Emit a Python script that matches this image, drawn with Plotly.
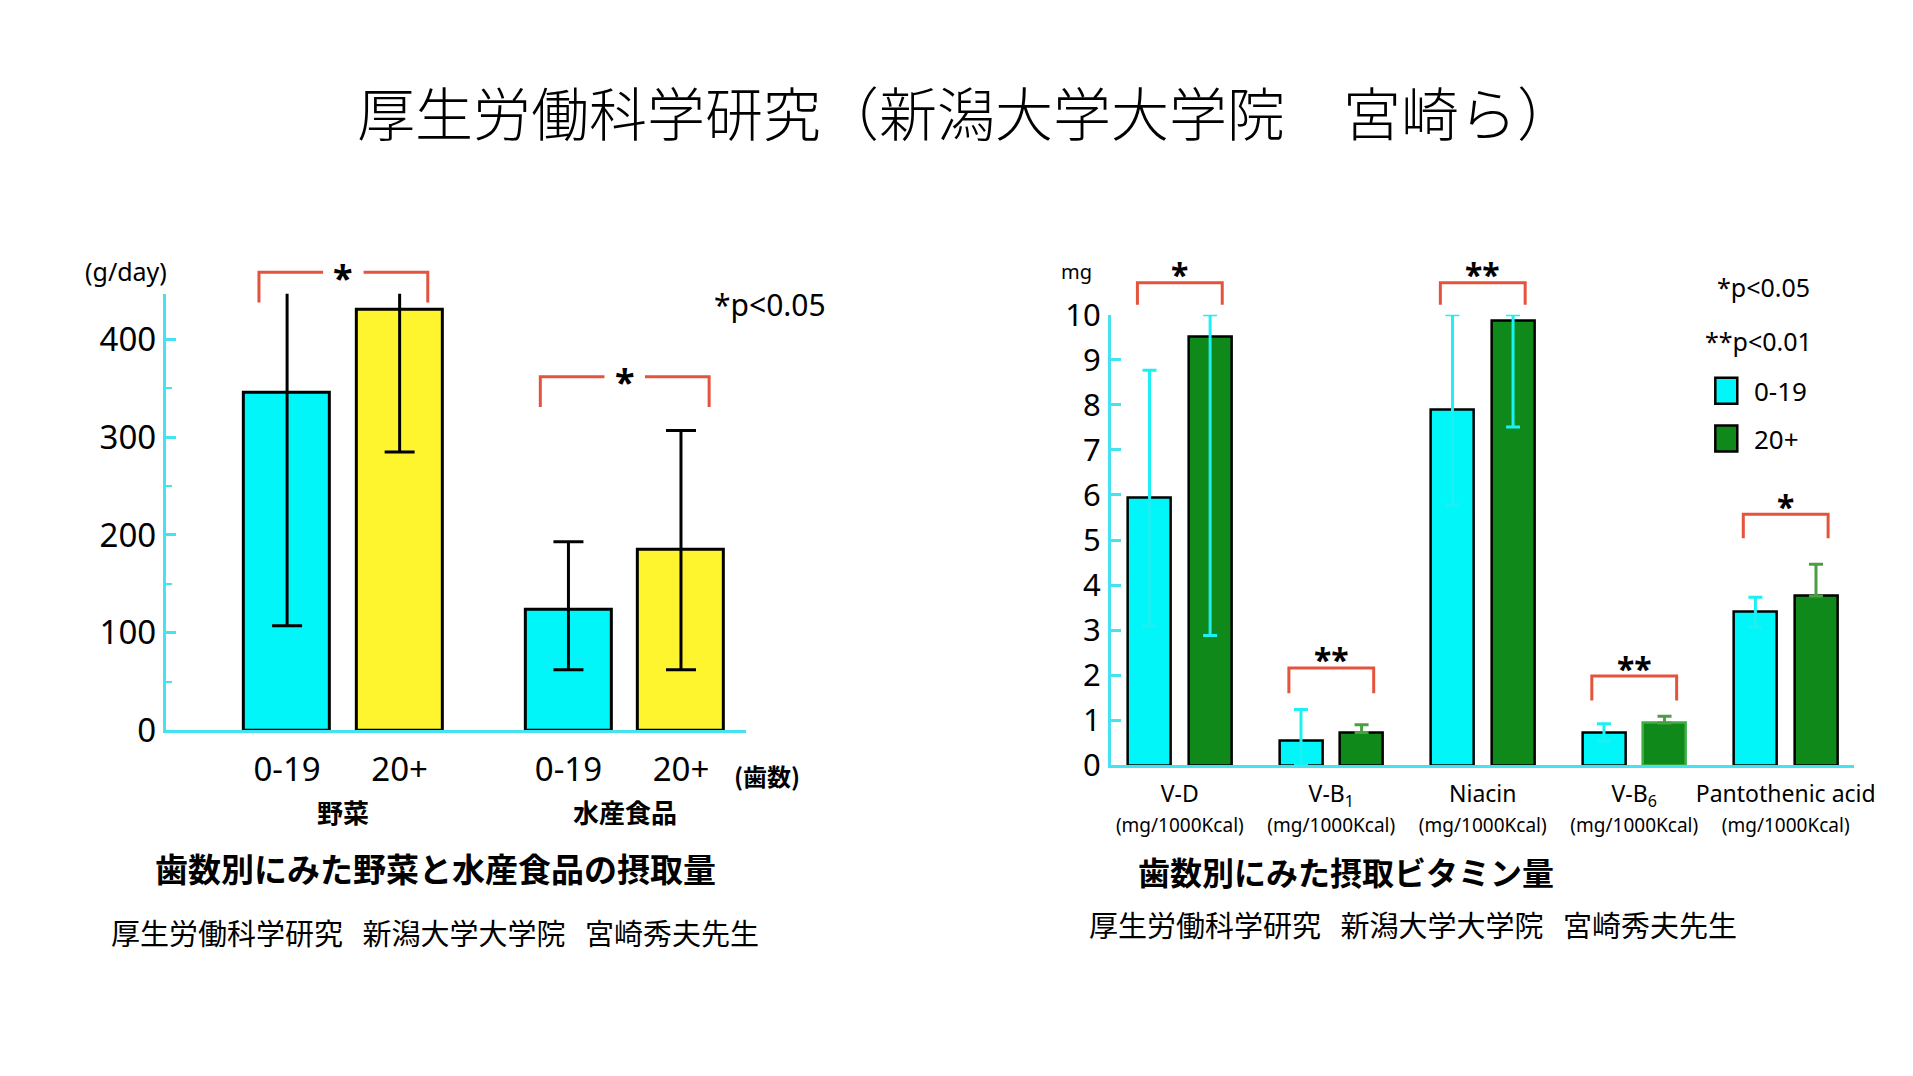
import plotly.graph_objects as go

W, H = 1913, 1076

# ---------------- data : left chart (g/day) ----------------
food_groups = ["野菜", "水産食品"]
age_groups = ["0-19", "20+"]
young_intake = [346, 123]
young_upper = [452, 193]
young_lower = [107, 62]
adult_intake = [431, 185]
adult_upper = [452, 307]
adult_lower = [285, 62]
left_sig_labels = ["*", "*"]
left_sig_top = [469, 362]
left_sig_bottom = [438, 331]
left_ticks = [0, 100, 200, 300, 400]

# ---------------- data : right chart (mg) ----------------
vitamins = ["V-D", "V-B<sub>1</sub>", "Niacin", "V-B<sub>6</sub>", "Pantothenic acid"]
vitamin_unit = "(mg/1000Kcal)"
young_vit = [5.93, 0.55, 7.89, 0.73, 3.40]
young_vit_upper = [8.77, 1.24, 10.0, 0.92, 3.73]
adult_vit = [9.51, 0.73, 9.87, 0.94, 3.76]
adult_vit_upper = [10.0, 0.90, 10.0, 1.09, 4.46]
adult_vit_lower = [2.88, 0.73, 7.51, 0.94, 3.76]
adult_err_tone = ["cyan", "green", "cyan", "green", "green"]
right_sig_labels = ["*", "**", "**", "**", "*"]
right_sig_top = [10.71, 2.16, 10.71, 1.98, 5.57]
right_sig_bottom = [10.22, 1.60, 10.22, 1.44, 5.04]
right_ticks = [0, 1, 2, 3, 4, 5, 6, 7, 8, 9, 10]

# ---------------- styles ----------------
CYAN = "#00F6F8"
YELLOW = "#FFF52E"
GREEN = "#0F8A1A"
AXIS = "#45E2F0"
ERR_CYAN = "#1DF0F4"
ERR_GREEN = "#4C9E45"
RED = "#E4533C"
JP = "Noto Sans CJK JP"
LAT = "Noto Sans"

L_RANGE = [0, 447]
R_RANGE = [0, 10]
L_OFF, L_W = 0.2, 0.305
R_OFF, R_W = 0.2, 0.284

# calibration of the photographed page (measured from test renders)
SY, OY = 0.96, 21.0
SX, OX = 0.99, -1.0


def px(x):
    return ((x - OX) / SX) / W


def py(y):
    return 1 - ((y - OY) / SY) / H


fig = go.Figure()

# ---------- left chart ----------
lx = list(range(len(food_groups)))
fig.add_trace(go.Bar(
    x=[g - L_OFF for g in lx], y=young_intake, width=L_W, name=age_groups[0],
    marker=dict(color=CYAN, line=dict(color="black", width=3)),
    error_y=dict(type="data", symmetric=False,
                 array=[u - m for u, m in zip(young_upper, young_intake)],
                 arrayminus=[m - l for m, l in zip(young_intake, young_lower)],
                 color="black", thickness=3, width=15),
    xaxis="x", yaxis="y", cliponaxis=False, showlegend=False, hoverinfo="skip"))
fig.add_trace(go.Bar(
    x=[g + L_OFF for g in lx], y=adult_intake, width=L_W, name=age_groups[1],
    marker=dict(color=YELLOW, line=dict(color="black", width=3)),
    error_y=dict(type="data", symmetric=False,
                 array=[u - m for u, m in zip(adult_upper, adult_intake)],
                 arrayminus=[m - l for m, l in zip(adult_intake, adult_lower)],
                 color="black", thickness=3, width=15),
    xaxis="x", yaxis="y", cliponaxis=False, showlegend=False, hoverinfo="skip"))

# ---------- right chart ----------
rx = list(range(len(vitamins)))
adult_outline = ["black", "black", "black", "#3FAE45", "black"]
fig.add_trace(go.Bar(
    x=[i - R_OFF for i in rx], y=young_vit, width=R_W, name=age_groups[0],
    marker=dict(color=CYAN, line=dict(color="black", width=2.5)),
    xaxis="x2", yaxis="y2", cliponaxis=False, showlegend=False, hoverinfo="skip"))
fig.add_trace(go.Bar(
    x=[i + R_OFF for i in rx], y=adult_vit, width=R_W, name=age_groups[1],
    marker=dict(color=GREEN, line=dict(color=adult_outline, width=2.5)),
    xaxis="x2", yaxis="y2", cliponaxis=False, showlegend=False, hoverinfo="skip"))

# error bars (0-19: the lower half hides inside the cyan bar)
fig.add_trace(go.Scatter(
    x=[i - R_OFF for i in rx], y=young_vit, mode="markers",
    marker=dict(color="rgba(0,0,0,0)", size=1),
    error_y=dict(type="data", symmetric=False,
                 array=[u - m for u, m in zip(young_vit_upper, young_vit)],
                 arrayminus=[min(u - m, m) for u, m in zip(young_vit_upper, young_vit)],
                 color=ERR_CYAN, thickness=3, width=7),
    xaxis="x2", yaxis="y2", cliponaxis=False, showlegend=False, hoverinfo="skip"))

for tone, col in (("cyan", ERR_CYAN), ("green", ERR_GREEN)):
    idx = [i for i in rx if adult_err_tone[i] == tone]
    fig.add_trace(go.Scatter(
        x=[i + R_OFF for i in idx], y=[adult_vit[i] for i in idx], mode="markers",
        marker=dict(color="rgba(0,0,0,0)", size=1),
        error_y=dict(type="data", symmetric=False,
                     array=[adult_vit_upper[i] - adult_vit[i] for i in idx],
                     arrayminus=[adult_vit[i] - adult_vit_lower[i] for i in idx],
                     color=col, thickness=3, width=7),
        xaxis="x2", yaxis="y2", cliponaxis=False, showlegend=False, hoverinfo="skip"))

shapes = []
annotations = []

# significance brackets, left (gap for the asterisk)
for g, lab, top, bot in zip(lx, left_sig_labels, left_sig_top, left_sig_bottom):
    yt, yb = top / L_RANGE[1], bot / L_RANGE[1]
    xl, xr, gap = g - 0.3, g + 0.3, 0.072
    shapes.append(dict(type="path", xref="x", yref="y domain",
                       path=f"M{xl},{yb} L{xl},{yt} L{g - gap},{yt} M{g + gap},{yt} L{xr},{yt} L{xr},{yb}",
                       line=dict(color=RED, width=3)))
    annotations.append(dict(xref="x", yref="y domain", x=g, y=yt, text=f"<b>{lab}</b>",
                            showarrow=False, xanchor="center", yanchor="middle", yshift=-5,
                            font=dict(family=LAT, size=36, color="black")))

# significance brackets, right
for i, lab, top, bot in zip(rx, right_sig_labels, right_sig_top, right_sig_bottom):
    yt, yb = top / R_RANGE[1], bot / R_RANGE[1]
    xl, xr = i - 0.28, i + 0.28
    shapes.append(dict(type="path", xref="x2", yref="y2 domain",
                       path=f"M{xl},{yb} L{xl},{yt} L{xr},{yt} L{xr},{yb}",
                       line=dict(color=RED, width=3)))
    annotations.append(dict(xref="x2", yref="y2 domain", x=i, y=yt, text=f"<b>{lab}</b>",
                            showarrow=False, xanchor="center", yanchor="middle", yshift=8,
                            font=dict(family=LAT, size=32, color="black")))

# group labels under the left x axis
for g, name in zip(lx, food_groups):
    annotations.append(dict(xref="x", yref="paper", x=g, y=py(811), text=f"<b>{name}</b>",
                            showarrow=False, xanchor="center", yanchor="middle",
                            font=dict(family=JP, size=26, color="black")))


def text(x, y, s, size, family=JP, xanchor="center", bold=False, weight=None):
    f = dict(family=family, size=size, color="black")
    if weight:
        f["weight"] = weight
    annotations.append(dict(xref="paper", yref="paper", x=px(x), y=py(y),
                            text=f"<b>{s}</b>" if bold else s, showarrow=False,
                            xanchor=xanchor, yanchor="middle", font=f))


text(966, 110, "厚生労働科学研究（新潟大学大学院　宮崎ら）", 58, weight=300)
text(125, 270, "(g/day)", 25, LAT)
text(770, 304, "*p&lt;0.05", 30, LAT)
text(767, 775, "(歯数)", 24, JP, bold=True)
text(435, 868, "歯数別にみた野菜と水産食品の摂取量", 33, bold=True)
text(434, 932, "厚生労働科学研究\u00a0\u00a0\u00a0新潟大学大学院\u00a0\u00a0\u00a0宮崎秀夫先生", 29)
text(1346, 871, "歯数別にみた摂取ビタミン量", 32, bold=True)
text(1413, 924, "厚生労働科学研究\u00a0\u00a0\u00a0新潟大学大学院\u00a0\u00a0\u00a0宮崎秀夫先生", 29)
text(1077, 271, "mg", 20, LAT)
text(1764, 286, "*p&lt;0.05", 25, LAT)
text(1759, 340, "**p&lt;0.01", 25, LAT)

# legend for right chart
for (y0, y1, col, lab) in ((377, 403, CYAN, age_groups[0]), (425, 451, GREEN, age_groups[1])):
    shapes.append(dict(type="rect", xref="paper", yref="paper",
                       x0=px(1716), x1=px(1738), y0=py(y1), y1=py(y0),
                       fillcolor=col, line=dict(color="black", width=2.5)))
    text(1753, (y0 + y1) / 2, lab, 26, LAT, xanchor="left")

axis_common = dict(showgrid=False, zeroline=False, showline=True, linecolor=AXIS,
                   linewidth=3, color="black")

fig.update_layout(
    width=W, height=H, margin=dict(l=0, r=0, t=0, b=0),
    paper_bgcolor="white", plot_bgcolor="white", bargap=0, showlegend=False,
    hovermode=False,
    xaxis=dict(domain=[px(165), px(746)], range=[-0.631, 1.432], anchor="y",
               tickmode="array",
               tickvals=[g - L_OFF for g in lx] + [g + L_OFF for g in lx],
               ticktext=[age_groups[0]] * len(lx) + [age_groups[1]] * len(lx),
               ticks="", ticklabelstandoff=8, tickangle=0,
               tickfont=dict(family=LAT, size=33, color="black"), **axis_common),
    yaxis=dict(domain=[py(730), py(293)], range=L_RANGE, anchor="x",
               tickmode="array", tickvals=left_ticks,
               ticks="inside", ticklen=10, tickwidth=3, tickcolor=AXIS,
               minor=dict(tickmode="linear", tick0=0, dtick=50, ticks="inside",
                          ticklen=6, tickwidth=2, tickcolor=AXIS),
               ticklabelstandoff=0,
               tickfont=dict(family=LAT, size=33, color="black"), **axis_common),
    xaxis2=dict(domain=[px(1111), px(1855)], range=[-0.455, 4.452], anchor="y2",
                tickmode="array", tickvals=rx,
                ticktext=[f"{v}<br><span style='font-size:19px'>{vitamin_unit}</span>"
                          for v in vitamins],
                ticks="", ticklabelstandoff=6, tickangle=0,
                tickfont=dict(family=LAT, size=23, color="black"), **axis_common),
    yaxis2=dict(domain=[py(765), py(314)], range=R_RANGE, anchor="x2",
                tickmode="array", tickvals=right_ticks,
                ticks="inside", ticklen=10, tickwidth=2.5, tickcolor=AXIS,
                ticklabelstandoff=1,
                tickfont=dict(family=LAT, size=31, color="black"), **axis_common),
    shapes=shapes, annotations=annotations,
)

# pin the figure to the window's top-left corner so the page has no margin
pin = ("document.documentElement.style.margin='0';document.body.style.margin='0';"
       "document.documentElement.style.overflow='hidden';document.body.style.overflow='hidden';"
       "var d=document.getElementById('{plot_id}');var p=d.parentElement;"
       "p.style.position='fixed';p.style.left='0';p.style.top='0';p.style.margin='0';")

fig.write_html("out.html", post_script=pin)
